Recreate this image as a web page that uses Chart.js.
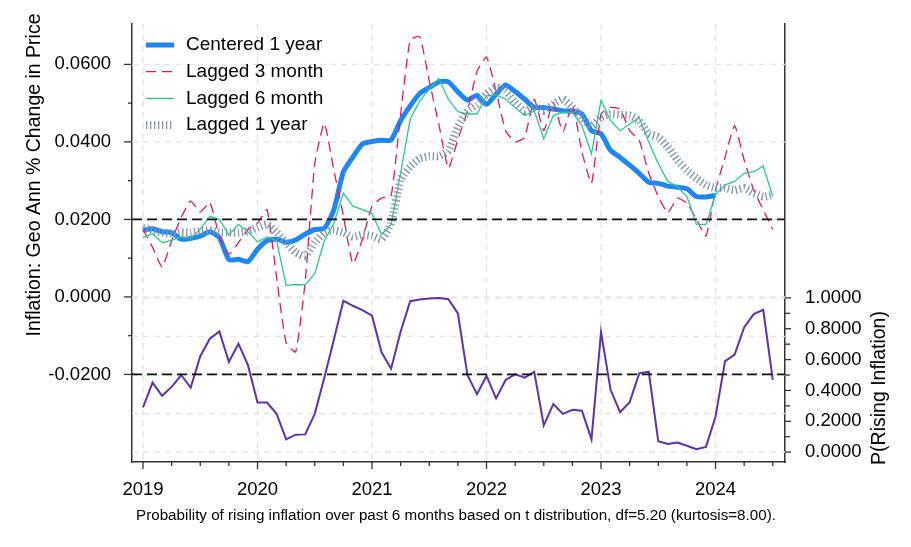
<!DOCTYPE html>
<html>
<head>
<meta charset="utf-8">
<script src="https://cdn.jsdelivr.net/npm/chart.js@4.4.1/dist/chart.umd.min.js"></script>
<style>
  html, body { margin: 0; padding: 0; background: #fff; }
</style>
</head>
<body>
<canvas id="chart" width="911" height="547"></canvas>
<script>
// ── Data (monthly, Jan 2019 .. Jul 2024) ──────────────────────────
const YEAR_LABELS = ['2019', '2020', '2021', '2022', '2023', '2024'];
const MONTHS = [];
YEAR_LABELS.forEach(yr => {
  for (let mo = 1; mo <= 12; mo++) MONTHS.push(yr + '-' + String(mo).padStart(2, '0'));
});
MONTHS.length = 67;   // last month: 2024-07

const CENTERED_1Y = [
  0.0172, 0.0176, 0.0168, 0.0166, 0.0149, 0.0151, 0.0157, 0.0168, 0.0153, 0.0096, 0.0097, 0.0091,
  0.0123, 0.0145, 0.0149, 0.0141, 0.0147, 0.0162, 0.0174, 0.0177, 0.0225, 0.0323, 0.0361, 0.0395,
  0.0401, 0.0404, 0.0405, 0.0455, 0.0493, 0.0525, 0.0540, 0.0555, 0.0555, 0.0529, 0.0508, 0.0520,
  0.0497, 0.0523, 0.0547, 0.0530, 0.0510, 0.0489, 0.0489, 0.0485, 0.0480, 0.0479, 0.0472, 0.0429,
  0.0421, 0.0378, 0.0360, 0.0340, 0.0319, 0.0296, 0.0293, 0.0286, 0.0283, 0.0279, 0.0259, 0.0258,
  0.0262
];
const LAGGED_3M = [
  0.0174, 0.0128, 0.0077, 0.0145, 0.0205, 0.0247, 0.0219, 0.0244, 0.0157, 0.0110, 0.0140, 0.0174,
  0.0191, 0.0225, 0.0050, -0.0119, -0.0142, 0.0040, 0.0344, 0.0448, 0.0327, 0.0209, 0.0085, 0.0149,
  0.0234, 0.0255, 0.0261, 0.0472, 0.0663, 0.0672, 0.0557, 0.0446, 0.0332, 0.0406, 0.0480, 0.0582,
  0.0619, 0.0531, 0.0429, 0.0400, 0.0412, 0.0510, 0.0429, 0.0502, 0.0425, 0.0497, 0.0374, 0.0293,
  0.0472, 0.0489, 0.0485, 0.0429, 0.0404, 0.0319, 0.0259, 0.0217, 0.0255, 0.0242, 0.0200, 0.0157,
  0.0276, 0.0361, 0.0442, 0.0353, 0.0276, 0.0225, 0.0174
];
const LAGGED_6M = [
  0.0153, 0.0163, 0.0140, 0.0146, 0.0155, 0.0151, 0.0175, 0.0208, 0.0200, 0.0160, 0.0187, 0.0168,
  0.0142, 0.0155, 0.0145, 0.0030, 0.0032, 0.0031, 0.0060, 0.0145, 0.0190, 0.0268, 0.0234, 0.0225,
  0.0215, 0.0161, 0.0187, 0.0320, 0.0459, 0.0506, 0.0536, 0.0564, 0.0510, 0.0478, 0.0472, 0.0472,
  0.0519, 0.0521, 0.0510, 0.0489, 0.0468, 0.0480, 0.0408, 0.0468, 0.0476, 0.0476, 0.0442, 0.0369,
  0.0507, 0.0455, 0.0429, 0.0446, 0.0463, 0.0400, 0.0344, 0.0298, 0.0285, 0.0259, 0.0187, 0.0187,
  0.0264, 0.0289, 0.0298, 0.0319, 0.0323, 0.0338, 0.0259
];
const LAGGED_1Y = [
  0.0179, 0.0172, 0.0166, 0.0163, 0.0166, 0.0166, 0.0170, 0.0172, 0.0167, 0.0166, 0.0166, 0.0170,
  0.0179, 0.0187, 0.0166, 0.0140, 0.0115, 0.0106, 0.0140, 0.0166, 0.0172, 0.0166, 0.0155, 0.0160,
  0.0157, 0.0149, 0.0191, 0.0302, 0.0336, 0.0357, 0.0363, 0.0363, 0.0378, 0.0438, 0.0480, 0.0497,
  0.0523, 0.0540, 0.0531, 0.0502, 0.0480, 0.0489, 0.0480, 0.0497, 0.0510, 0.0489, 0.0463, 0.0442,
  0.0463, 0.0472, 0.0470, 0.0468, 0.0455, 0.0421, 0.0412, 0.0387, 0.0353, 0.0327, 0.0306, 0.0289,
  0.0281, 0.0281, 0.0276, 0.0281, 0.0268, 0.0259, 0.0264
];
const P_RISING = [
  0.290, 0.451, 0.365, 0.423, 0.500, 0.419, 0.622, 0.735, 0.782, 0.585, 0.703, 0.564,
  0.321, 0.321, 0.248, 0.083, 0.113, 0.115, 0.248, 0.483, 0.729, 0.981, 0.949, 0.921,
  0.885, 0.647, 0.541, 0.782, 0.979, 0.989, 0.996, 1.000, 0.991, 0.899, 0.500, 0.376,
  0.494, 0.348, 0.468, 0.504, 0.483, 0.521, 0.173, 0.312, 0.248, 0.274, 0.269, 0.083,
  0.778, 0.404, 0.259, 0.323, 0.511, 0.521, 0.071, 0.053, 0.062, 0.041, 0.019, 0.034,
  0.231, 0.590, 0.633, 0.808, 0.895, 0.923, 0.468
];

// ── Ticks / reference lines ───────────────────────────────────────
const X_TICKS      = [0, 3, 6, 9, 12, 15, 18, 21, 24, 27, 30, 33, 36, 39, 42, 45, 48, 51, 54, 57, 60, 63, 66];
const X_YEAR_TICKS = [0, 12, 24, 36, 48, 60];
const LEFT_TICKS   = [-0.02, -0.01, 0, 0.01, 0.02, 0.03, 0.04, 0.05, 0.06];
const LEFT_LABELED = [-0.02, 0, 0.02, 0.04, 0.06];
const RIGHT_TICKS  = [0, 0.1, 0.2, 0.3, 0.4, 0.5, 0.6, 0.7, 0.8, 0.9, 1.0];
const RIGHT_LABELED = [0, 0.2, 0.4, 0.6, 0.8, 1.0];
const LEFT_GRID    = [0, 0.02, 0.04, 0.06];
const RIGHT_GRID   = [0, 0.25, 0.5, 0.75, 1.0];
const REF_LINES    = [0.02, -0.02];

const Y_TITLE  = 'Inflation: Geo Ann % Change in Price';
const Y2_TITLE = 'P(Rising Inflation)';
const CAPTION  = 'Probability of rising inflation over past 6 months based on t distribution, df=5.20 (kurtosis=8.00).';

const FONT = "'Liberation Sans', Arial, sans-serif";
const inList = (list, v) => list.some(l => Math.abs(l - v) < 1e-9);
const toXY = arr => arr.map((v, i) => ({ x: i, y: v }));

// ── Decorations: grid, reference lines, tick marks, legend, titles ─
const decor = {
  id: 'decor',
  beforeDatasetsDraw(chart) {
    const { ctx, chartArea: ca, scales } = chart;
    ctx.save();
    ctx.strokeStyle = '#e6e6e6';
    ctx.lineWidth = 1.5;
    ctx.setLineDash([6, 5]);
    const hline = py => { ctx.beginPath(); ctx.moveTo(ca.left, py); ctx.lineTo(ca.right, py); ctx.stroke(); };
    X_YEAR_TICKS.forEach(v => {
      const px = scales.x.getPixelForValue(v);
      ctx.beginPath(); ctx.moveTo(px, ca.top); ctx.lineTo(px, ca.bottom); ctx.stroke();
    });
    LEFT_GRID.forEach(v => hline(scales.y.getPixelForValue(v)));
    RIGHT_GRID.forEach(v => hline(scales.y2.getPixelForValue(v)));
    ctx.restore();
  },
  afterDatasetsDraw(chart) {
    const { ctx, chartArea: ca, scales } = chart;
    ctx.save();
    ctx.strokeStyle = '#111';
    ctx.lineWidth = 1.8;
    ctx.setLineDash([10, 5]);
    REF_LINES.forEach(v => {
      const py = scales.y.getPixelForValue(v);
      ctx.beginPath(); ctx.moveTo(ca.left, py); ctx.lineTo(ca.right, py); ctx.stroke();
    });
    ctx.restore();
  },
  afterDraw(chart) {
    const { ctx, chartArea: ca, scales } = chart;
    ctx.save();
    // tick marks
    ctx.strokeStyle = '#333';
    ctx.lineWidth = 1.3;
    LEFT_TICKS.forEach(v => {
      const py = scales.y.getPixelForValue(v);
      const len = inList(LEFT_LABELED, v) ? 8 : 4;
      ctx.beginPath(); ctx.moveTo(ca.left, py); ctx.lineTo(ca.left - len, py); ctx.stroke();
    });
    RIGHT_TICKS.forEach(v => {
      const py = scales.y2.getPixelForValue(v);
      const len = inList(RIGHT_LABELED, v) ? 6 : 5;
      ctx.beginPath(); ctx.moveTo(ca.right, py); ctx.lineTo(ca.right + len, py); ctx.stroke();
    });
    X_TICKS.forEach(v => {
      const px = scales.x.getPixelForValue(v);
      const len = v % 12 === 0 ? 7 : 4;
      ctx.beginPath(); ctx.moveTo(px, ca.bottom); ctx.lineTo(px, ca.bottom + len); ctx.stroke();
    });

    // legend (inside plot, top-left)
    ctx.font = '19px ' + FONT;
    ctx.fillStyle = '#000';
    ctx.textBaseline = 'middle';
    ctx.textAlign = 'left';
    chart.data.datasets.filter(ds => ds.inLegend).forEach((ds, i) => {
      const ly = 45 + i * 26.7;
      ctx.save();
      ctx.strokeStyle = ds.borderColor;
      ctx.lineWidth = ds.borderWidth;
      ctx.setLineDash(ds.borderDash || []);
      ctx.lineCap = 'butt';
      ctx.beginPath(); ctx.moveTo(146, ly); ctx.lineTo(174, ly); ctx.stroke();
      ctx.restore();
      ctx.fillText(ds.label, 186, ly);
    });

    // axis titles
    ctx.font = '19.5px ' + FONT;
    ctx.textAlign = 'center';
    ctx.save();
    ctx.translate(35, 175);
    ctx.rotate(-Math.PI / 2);
    ctx.fillText(Y_TITLE, 0, 0);
    ctx.restore();
    ctx.save();
    ctx.translate(880, 388);
    ctx.rotate(-Math.PI / 2);
    ctx.fillText(Y2_TITLE, 0, 0);
    ctx.restore();

    // caption
    ctx.font = '15.2px ' + FONT;
    ctx.fillText(CAPTION, 456, 516);
    ctx.restore();
  },
};

Chart.defaults.font.family = FONT;
Chart.defaults.color = '#000';

new Chart(document.getElementById('chart'), {
  type: 'line',
  data: {
    datasets: [
      {
        label: 'Centered 1 year', inLegend: true, data: toXY(CENTERED_1Y), yAxisID: 'y',
        borderColor: '#1f87f5', borderWidth: 5, tension: 0.2, order: 5,
      },
      {
        label: 'Lagged 3 month', inLegend: true, data: toXY(LAGGED_3M), yAxisID: 'y',
        borderColor: '#d81d62', borderWidth: 1.3, borderDash: [10, 6], tension: 0.15, order: 4,
      },
      {
        label: 'Lagged 6 month', inLegend: true, data: toXY(LAGGED_6M), yAxisID: 'y',
        borderColor: '#2ec98c', borderWidth: 1.3, tension: 0, order: 3,
      },
      {
        label: 'Lagged 1 year', inLegend: true, data: toXY(LAGGED_1Y), yAxisID: 'y',
        borderColor: '#8094ae', borderWidth: 8, borderDash: [1.3, 2.7], borderCapStyle: 'butt',
        tension: 0.2, order: 2,
      },
      {
        label: 'P(Rising Inflation)', inLegend: false, data: toXY(P_RISING), yAxisID: 'y2',
        borderColor: '#5a35a8', borderWidth: 2, tension: 0, order: 1,
      },
    ],
  },
  options: {
    responsive: false,
    devicePixelRatio: 1,
    animation: false,
    layout: { padding: { top: 19, left: 0, right: 0, bottom: 0 } },
    elements: { point: { radius: 0 } },
    plugins: { legend: { display: false }, tooltip: { enabled: false } },
    scales: {
      x: {
        type: 'linear', position: 'bottom', min: -1.153, max: 67.28,
        grid: { display: false },
        border: { display: true, color: '#333', width: 1.5 },
        afterBuildTicks: s => { s.ticks = X_TICKS.map(v => ({ value: v })); },
        afterFit: s => { s.height = 85; },
        ticks: {
          autoSkip: false, maxRotation: 0, padding: 9,
          font: { size: 18.5 }, color: '#000',
          callback: v => (v % 12 === 0 ? YEAR_LABELS[v / 12] : ''),
        },
      },
      y: {
        type: 'linear', position: 'left', min: -0.0426, max: 0.0704,
        grid: { display: false },
        border: { display: true, color: '#333', width: 1.5 },
        afterBuildTicks: s => { s.ticks = LEFT_TICKS.map(v => ({ value: v })); },
        afterFit: s => { s.width = 132; },
        ticks: {
          autoSkip: false, padding: 13, font: { size: 18.5 }, color: '#000',
          callback: v => (inList(LEFT_LABELED, v) ? v.toFixed(4) : ''),
        },
      },
      y2: {
        type: 'linear', position: 'right', min: -0.0641, max: 2.7756,
        grid: { display: false },
        border: { display: true, color: '#333', width: 1.5 },
        afterBuildTicks: s => { s.ticks = RIGHT_TICKS.map(v => ({ value: v })); },
        afterFit: s => { s.width = 126; },
        ticks: {
          autoSkip: false, padding: 12, font: { size: 18.5 }, color: '#000',
          callback: v => (inList(RIGHT_LABELED, v) ? v.toFixed(4) : ''),
        },
      },
    },
  },
  plugins: [decor],
});
</script>
</body>
</html>
